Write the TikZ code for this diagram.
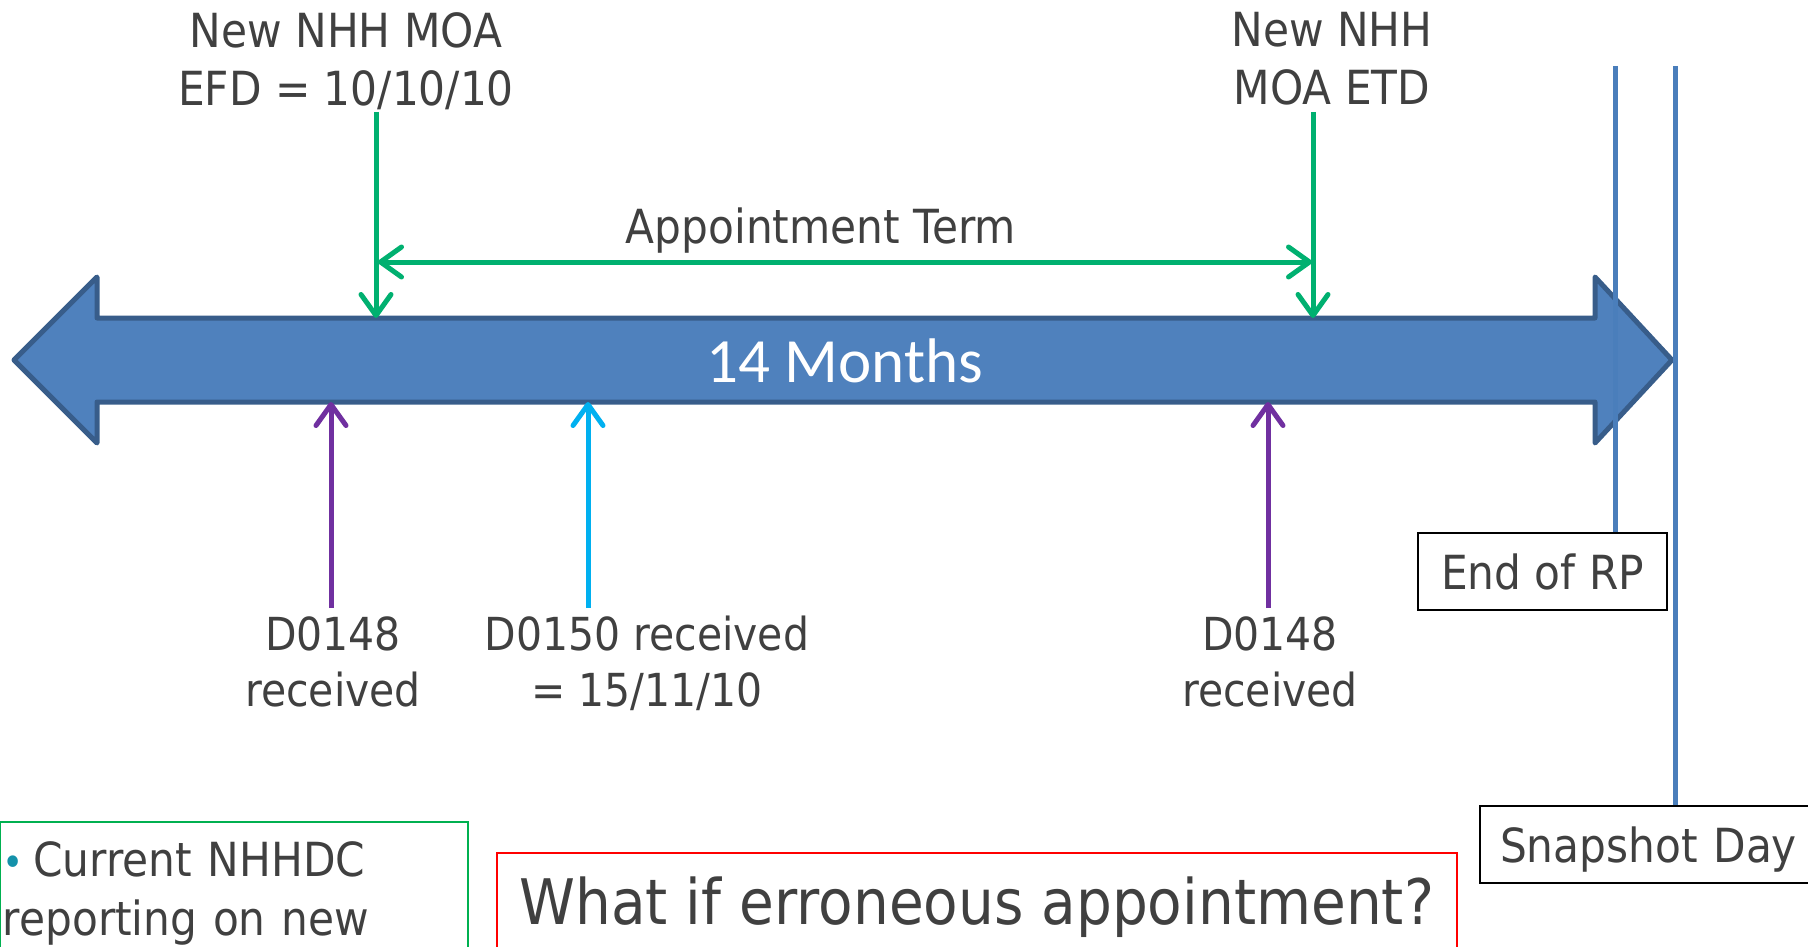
\documentclass[tikz,border=0pt]{standalone}
\usepackage{fontspec}
\setmainfont{DejaVu Sans}[FakeStretch=0.9]
\newfontfamily\calfont{Carlito}
\usetikzlibrary{arrows.meta}
\definecolor{barfill}{RGB}{79,129,189}
\definecolor{barline}{RGB}{56,93,138}
\definecolor{vline}{RGB}{74,126,187}
\definecolor{grn}{RGB}{0,176,112}
\definecolor{purp}{RGB}{112,48,160}
\definecolor{cyanA}{RGB}{0,176,240}
\definecolor{txtgray}{RGB}{64,64,64}
\definecolor{bullteal}{RGB}{20,145,170}
\definecolor{boxgreen}{RGB}{0,176,80}
\begin{document}
\begin{tikzpicture}[x=1pt,y=-1pt,
  lbl/.style={font=\fontsize{47}{58}\selectfont, text=txtgray, align=center, inner sep=0pt},
  dlbl/.style={font=\fontsize{45.5}{56}\selectfont, text=txtgray, align=center, inner sep=0pt},
  conn/.style={line width=5pt, -{Straight Barb[length=21pt,width=30pt,round]}},
  dconn/.style={line width=5pt, {Straight Barb[length=21pt,width=30pt,round]}-{Straight Barb[length=21pt,width=30pt,round]}},
  vmark/.style={draw=vline, line width=5pt},
  boxk/.style={draw=black, line width=2pt, text=txtgray, font=\fontsize{47}{58}\selectfont, text height=35pt, text depth=0pt}
]
\useasboundingbox (0,0) rectangle (1808,947);
\clip (0,0) rectangle (1808,947);

% big double arrow
\draw[fill=barfill, draw=barline, line width=5pt, line join=round]
  (14,360) -- (97,277) -- (97,318) -- (1595,318) -- (1595,277) -- (1672,360)
  -- (1595,443) -- (1595,402) -- (97,402) -- (97,443) -- cycle;
\node[anchor=base, font=\calfont\fontsize{63}{70}\selectfont, text=white, inner sep=0pt] (months) at (845,382) {14 Months};

% labels
\node[lbl, anchor=north] (efdLbl) at (346,12) {New NHH MOA\\EFD = 10/10/10};
\node[lbl, anchor=north] (etdLbl) at (1332,12) {New NHH\\MOA ETD};
\node[lbl, anchor=base] (apptLbl) at (821,243) {Appointment Term};

\node[dlbl, anchor=north] (d148a) at (333,617) {D0148\\received};
\node[dlbl, anchor=north] (d150) at (647,616) {D0150 received\\= 15/11/10};
\node[dlbl, anchor=north] (d148b) at (1270,617) {D0148\\received};

% coordinates
\coordinate (efdTop) at (376,112);
\coordinate (efdBar) at (376,318);
\coordinate (etdTop) at (1313,112);
\coordinate (etdBar) at (1313,318);
\coordinate (termL) at (378,262);
\coordinate (termR) at (1312,262);
\coordinate (pA1) at (331,608);
\coordinate (pA2) at (331,402);
\coordinate (cB1) at (588,608);
\coordinate (cB2) at (588,402);
\coordinate (pC1) at (1268,608);
\coordinate (pC2) at (1268,402);
\coordinate (rpTop) at (1615,66);
\coordinate (snTop) at (1675,66);

% boxes
\node[boxk, minimum width=249pt, minimum height=77pt] (endRP) at (1542.5,571.5) {End of RP};
\node[boxk, anchor=west, minimum height=77pt, text width=340pt, align=left, inner xsep=20pt] (snap) at (1479,844.5) {Snapshot Day};

% green connectors
\draw[conn, draw=grn] (efdTop) -- (efdBar);
\draw[conn, draw=grn] (etdTop) -- (etdBar);
\draw[dconn, draw=grn] (termL) -- (termR);

% purple / cyan connectors
\draw[conn, draw=purp] (pA1) -- (pA2);
\draw[conn, draw=cyanA] (cB1) -- (cB2);
\draw[conn, draw=purp] (pC1) -- (pC2);

% vertical markers
\draw[vmark] (rpTop) -- (endRP.north -| rpTop);
\draw[vmark] (snTop) -- (snap.north -| snTop);

% bottom boxes
\node[draw=boxgreen, line width=1.5pt, anchor=north west, align=left, text width=462pt,
      inner xsep=3pt, inner ysep=21pt, text height=34pt, text depth=140pt,
      font=\fontsize{47}{59}\selectfont, text=txtgray] (curr) at (-1,821)
      {\textcolor{bullteal}{\fontsize{40}{40}\selectfont•}\hspace{0.2em}Current NHHDC\\reporting on new};
\node[draw=red, line width=1.5pt, anchor=north west, minimum width=960pt,
      inner ysep=26pt, text height=46pt, text depth=60pt,
      font=\fontsize{62.8}{70}\selectfont, text=txtgray] (whatif) at (496,852)
      {What if erroneous appointment?};
\end{tikzpicture}
\end{document}
